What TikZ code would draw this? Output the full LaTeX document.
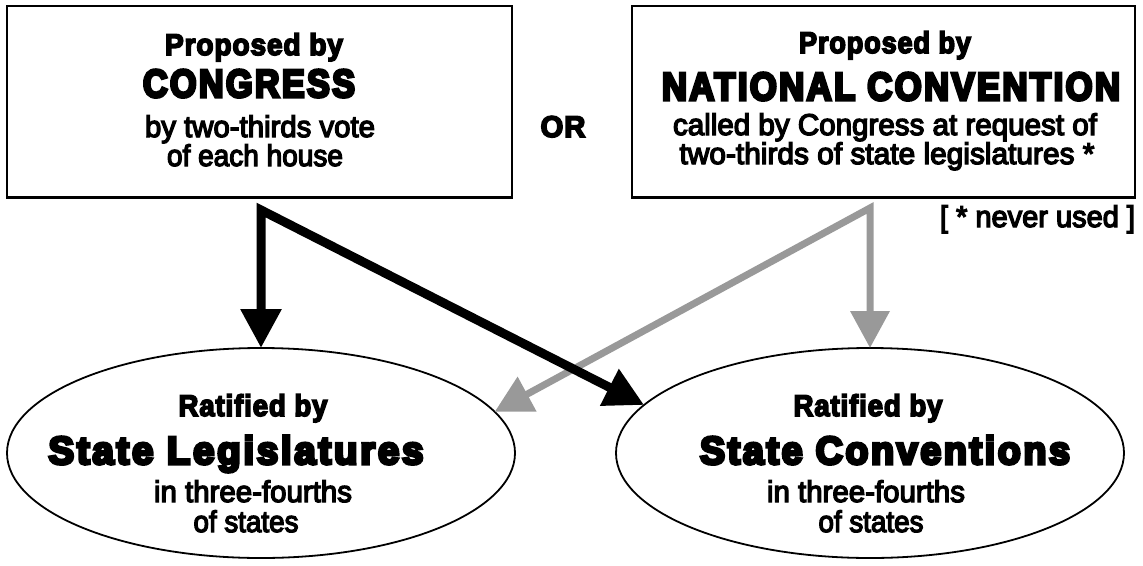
\documentclass[tikz,border=0pt]{standalone}
\usepackage{fontspec}
\usepackage{graphicx}
\setmainfont{Liberation Sans}
\newfontfamily\fblack{Liberation Sans}[FakeBold=8,LetterSpace=7]
\newfontfamily\fmed{Liberation Sans}[FakeBold=5.5,LetterSpace=3]
\newfontfamily\freg{Liberation Sans}[FakeBold=4.5]
\usetikzlibrary{arrows.meta,shapes.geometric}
\definecolor{arrowgray}{RGB}{153,153,153}
\newcommand\fitw[2]{\resizebox{#1pt}{\height}{#2}}
\tikzset{
  txt/.style={inner sep=0pt, outer sep=0pt, anchor=base},
  medtxt/.style={txt, font=\fontsize{30}{34}\fmed\bfseries},
  bigtxt/.style={txt, font=\fontsize{39}{43}\fblack\bfseries},
  smalltxt/.style={txt, font=\fontsize{30}{34}\freg},
  propbox/.style={draw, line width=2.5pt, inner sep=0pt, outer sep=0pt},
  ratell/.style={draw, ellipse, line width=1.8pt, inner sep=0pt, outer sep=0pt,
                 minimum width=508pt, minimum height=210pt},
  blackarrow/.style={line width=9pt, line join=miter,
                 arrows={Triangle[length=39pt,width=39pt]-Triangle[length=39pt,width=39pt]}},
  grayarrow/.style={color=arrowgray, line width=7pt, line join=miter,
                 arrows={Triangle[length=37pt,width=38pt]-Triangle[length=37pt,width=38pt]}},
}
\begin{document}
\begin{tikzpicture}[x=1pt,y=-1pt]
\useasboundingbox (0,0) rectangle (1143,565);
% boxes and ellipses
\node[propbox, minimum width=505pt, minimum height=191.5pt] (boxC) at (259.5,101.75) {};
\node[propbox, minimum width=503pt, minimum height=191.5pt] (boxN) at (883.5,101.75) {};
\node[ratell] (ellL) at (261,453) {};
\node[ratell] (ellR) at (870,453) {};
% left box text
\node[medtxt] (pC) at (254,55) {\fitw{178}{Proposed by}};
\node[bigtxt] (nC) at (249,97) {\fitw{212}{CONGRESS}};
\node[smalltxt] (sC1) at (260,137) {\fitw{230}{by two-thirds vote}};
\node[smalltxt] (sC2) at (255,166) {\fitw{176}{of each house}};
% right box text
\node[medtxt] (pN) at (885,53) {\fitw{172}{Proposed by}};
\node[bigtxt] (nN) at (891,100) {\fitw{458}{NATIONAL CONVENTION}};
\node[smalltxt] (sN1) at (885,135) {\fitw{424}{called by Congress at request of}};
\node[smalltxt] (sN2) at (887,164) {\fitw{415}{two-thirds of state legislatures *}};
\node[smalltxt, anchor=base east] (never) at (1135,227) {\fitw{195}{[ * never used ]}};
\node[medtxt] (or) at (563,137) {\fitw{45}{OR}};
% ellipse texts
\node[medtxt] (rL) at (253,416) {\fitw{149}{Ratified by}};
\node[bigtxt] (bL) at (236,464) {\fitw{375}{State Legislatures}};
\node[smalltxt] (s1L) at (253,502) {\fitw{198}{in three-fourths}};
\node[smalltxt] (s2L) at (246,532) {\fitw{105}{of states}};
\node[medtxt] (rR) at (868,416) {\fitw{149}{Ratified by}};
\node[bigtxt] (bR) at (885,464) {\fitw{370}{State Conventions}};
\node[smalltxt] (s1R) at (866,502) {\fitw{198}{in three-fourths}};
\node[smalltxt] (s2R) at (871,532) {\fitw{105}{of states}};
% connectors
\coordinate (apexC) at (261,210);
\coordinate (apexN) at (870,208);
\draw[grayarrow] (ellL.10.6) -- (apexN) -- (ellR.north);
\draw[blackarrow] (ellL.north) -- (apexC) -- (ellR.168.9);
\end{tikzpicture}
\end{document}
